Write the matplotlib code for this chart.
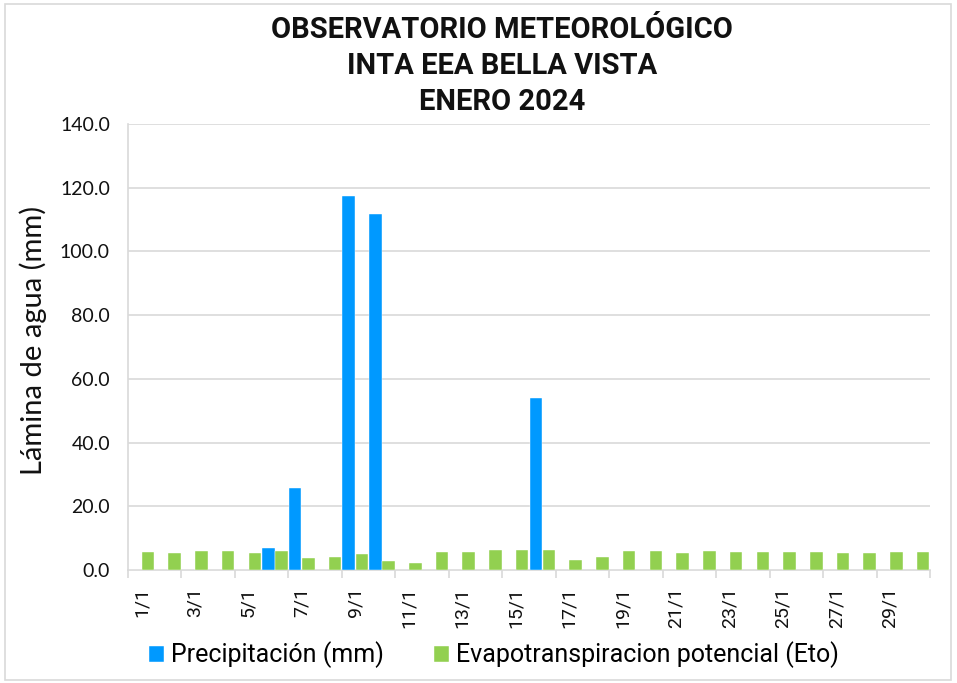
import matplotlib
matplotlib.use("Agg")
import matplotlib.pyplot as plt
from matplotlib.patches import Rectangle
import numpy as np

days = [f"{d}/1" for d in range(1, 31)]
precip = [0, 0, 0, 0, 0, 7.0, 25.8, 0, 117.3, 111.9,
          0, 0, 0, 0, 0, 53.9, 0, 0, 0, 0,
          0, 0, 0, 0, 0, 0, 0, 0, 0, 0]
eto = [5.6, 5.3, 5.9, 6.1, 5.4, 6.0, 3.9, 4.2, 4.9, 2.7,
       2.35, 5.6, 5.6, 6.3, 6.4, 6.3, 3.0, 4.2, 5.9, 6.1,
       5.3, 6.0, 5.5, 5.7, 5.6, 5.7, 5.4, 5.3, 5.5, 5.7]
series_names = ["Precipitación (mm)", "Evapotranspiracion potencial (Eto)"]
title_lines = "OBSERVATORIO METEOROLÓGICO\nINTA EEA BELLA VISTA\nENERO 2024"
ylabel = "Lámina de agua (mm)"

title_font = "Roboto"
tick_font = "Lato"

blue = "#0099FF"
green = "#92D050"
grid = "#D9D9D9"

fig = plt.figure(figsize=(9.57, 6.83), dpi=100)
fig.patches.append(Rectangle((5/957, 3/683), 946/957, 676/683, transform=fig.transFigure,
                             fill=False, edgecolor=grid, linewidth=1.2))
ax = fig.add_axes([128/957, 1-570/683, 802/957, 446/683])

x = np.arange(len(days))
w = 0.47
ax.bar(x - 0.245, precip, width=w, color=blue, label=series_names[0], zorder=3,
       edgecolor="white", linewidth=0.3)
ax.bar(x + 0.245, eto, width=w, color=green, label=series_names[1], zorder=3,
       edgecolor="white", linewidth=0.3)

ax.set_xlim(-0.5, len(days) - 0.5)
ax.set_ylim(0, 140)
ax.set_yticks(np.arange(0, 141, 20))
ax.set_yticklabels([f"{v:.1f}" for v in np.arange(0, 141, 20)], fontsize=14, family=tick_font,
                   color="#111111")
ax.tick_params(axis="y", length=0, pad=13)
ax.yaxis.grid(True, color=grid, linewidth=1.2, zorder=0)
ax.set_axisbelow(True)

ax.set_xticks(np.arange(-0.5, len(days), 2))
ax.set_xticklabels([])
ax.tick_params(axis="x", which="major", length=6, color=grid, width=1.2)
ax.set_xticks(x[::2], minor=True)
ax.set_xticklabels(days[::2], minor=True, rotation=90, fontsize=14, family="Roboto",
                   color="#111111")
ax.tick_params(axis="x", which="minor", length=0, pad=12)

for s in ["top", "right"]:
    ax.spines[s].set_visible(False)
for s in ["left", "bottom"]:
    ax.spines[s].set_color(grid)
    ax.spines[s].set_linewidth(1.2)

ax.set_ylabel(ylabel, fontsize=21, family=tick_font, color="#111111")
ax.yaxis.set_label_coords(-0.101, 0.515)

fig.text(502/957, 1-66/683, title_lines, ha="center", va="center", fontsize=21,
         fontweight="bold", family=title_font, linespacing=1.35, color="#111111")

fig.legend(loc="center", bbox_to_anchor=(494/957, 1-655/683), ncol=2, frameon=False,
           prop={"family": "Roboto", "size": 18}, handlelength=0.6, handleheight=0.6,
           handletextpad=0.3, columnspacing=2.0)

fig.savefig("out.png", dpi=100)
